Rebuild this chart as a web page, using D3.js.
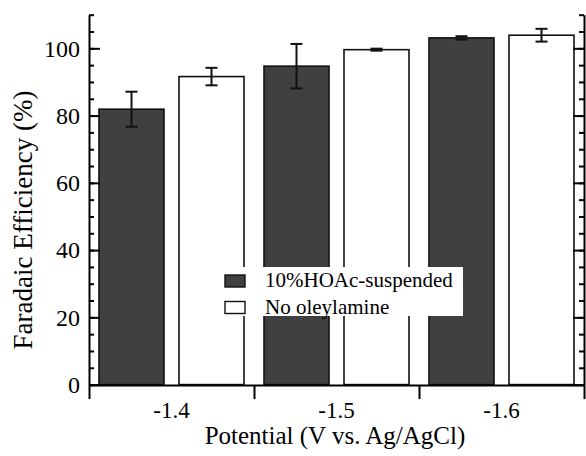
<!DOCTYPE html>
<html>
<head>
<meta charset="utf-8">
<script src="https://cdn.jsdelivr.net/npm/d3@7"></script>
<style>
  body { margin: 0; background: #fff; }
  svg { display: block; font-family: "Liberation Serif", "Times New Roman", serif; }
  .axis path, .axis line { stroke: #000; stroke-width: 2; }
  .axis text { fill: #000; }
</style>
</head>
<body>
<div id="chart"></div>
<script>
(function () {
    // Potential groups and the two sample series
    const potentials = ["-1.4", "-1.5", "-1.6"];
    const seriesNames = ["10%HOAc-suspended", "No oleylamine"];
    const hoacValues = [81.9, 94.7, 103.1];
    const hoacErrors = [5.2, 6.6, 0.5];
    const noAmineValues = [91.6, 99.6, 103.9];
    const noAmineErrors = [2.6, 0.3, 1.9];
    const majorTicks = [0, 20, 40, 60, 80, 100];
    const minorTicks = d3.range(0, 111, 5);

    const W = 586, H = 456;
    const left = 89, right = 584, top = 14.7, bottom = 384.6;
    const serif = "'Liberation Serif', 'Times New Roman', serif";

    const fills = { "10%HOAc-suspended": "#404040", "No oleylamine": "#ffffff" };

    const rows = [];
    potentials.forEach((p, i) => {
        rows.push({ pot: p, name: seriesNames[0], value: hoacValues[i], err: hoacErrors[i] });
        rows.push({ pot: p, name: seriesNames[1], value: noAmineValues[i], err: noAmineErrors[i] });
    });

    const svg = d3.select("#chart").append("svg")
        .attr("width", W)
        .attr("height", H);

    // scales
    const x0 = d3.scaleBand().domain(potentials).range([left, right]).padding(0);
    const x1 = d3.scaleBand().domain(seriesNames).range([0, x0.bandwidth()])
        .paddingInner(0.1875).paddingOuter(0.125);
    const y = d3.scaleLinear().domain([0, 110]).range([bottom, top]);
    const edges = d3.scaleLinear().domain([0, potentials.length]).range([left, right]);

    // bars
    const bars = svg.append("g");
    bars.selectAll("rect")
        .data(rows)
        .join("rect")
        .attr("x", d => x0(d.pot) + x1(d.name))
        .attr("y", d => y(d.value))
        .attr("width", x1.bandwidth())
        .attr("height", d => y(0) - y(d.value))
        .attr("fill", d => fills[d.name])
        .attr("stroke", "#111")
        .attr("stroke-width", 1.6);

    // error bars
    const errs = svg.append("g").attr("stroke", "#111").attr("stroke-width", 2);
    rows.forEach(d => {
        const cx = x0(d.pot) + x1(d.name) + x1.bandwidth() / 2;
        const hi = y(d.value + d.err), lo = y(d.value - d.err);
        errs.append("line").attr("x1", cx).attr("x2", cx).attr("y1", hi).attr("y2", lo);
        errs.append("line").attr("x1", cx - 6).attr("x2", cx + 6).attr("y1", hi).attr("y2", hi);
        errs.append("line").attr("x1", cx - 6).attr("x2", cx + 6).attr("y1", lo).attr("y2", lo);
    });

    // left axis, ticks pointing inward
    svg.append("g").attr("class", "axis")
        .attr("transform", `translate(${left},0)`)
        .call(d3.axisLeft(y).tickValues(minorTicks).tickSize(-5).tickSizeOuter(0).tickFormat(""));
    svg.append("g").attr("class", "axis")
        .attr("transform", `translate(${left},0)`)
        .call(d3.axisLeft(y).tickValues(majorTicks).tickSize(-11).tickSizeOuter(0).tickPadding(9))
        .call(g => g.select(".domain").remove())
        .call(g => g.selectAll("text")
            .style("font-family", serif)
            .style("font-size", "24px"));

    // right axis
    svg.append("g").attr("class", "axis")
        .attr("transform", `translate(${right},0)`)
        .call(d3.axisRight(y).tickValues(minorTicks).tickSize(-5).tickSizeOuter(0).tickFormat(""));
    svg.append("g").attr("class", "axis")
        .attr("transform", `translate(${right},0)`)
        .call(d3.axisRight(y).tickValues(majorTicks).tickSize(-11).tickSizeOuter(0).tickFormat(""))
        .call(g => g.select(".domain").remove());

    // bottom axis: ticks at group edges, labels at group centres
    svg.append("g").attr("class", "axis")
        .attr("transform", `translate(0,${bottom + 0.5})`)
        .call(d3.axisBottom(edges).tickValues(d3.range(potentials.length + 1)).tickSize(14).tickSizeOuter(0).tickFormat(""));
    svg.append("g").attr("class", "axis")
        .attr("transform", `translate(0,${bottom + 0.5})`)
        .call(d3.axisBottom(x0).tickSize(0).tickPadding(17))
        .call(g => g.select(".domain").remove())
        .call(g => g.selectAll("text")
            .style("font-family", serif)
            .style("font-size", "23px"));

    // axis titles
    svg.append("text")
        .attr("x", 335).attr("y", 444)
        .attr("text-anchor", "middle")
        .style("font-size", "25px")
        .attr("fill", "#000")
        .text("Potential (V vs. Ag/AgCl)");
    svg.append("text")
        .attr("transform", "translate(32,220) rotate(-90)")
        .attr("text-anchor", "middle")
        .style("font-size", "27px")
        .attr("fill", "#000")
        .text("Faradaic Efficiency (%)");

    // legend with opaque background
    const legend = svg.append("g");
    legend.append("rect")
        .attr("x", 218).attr("y", 267).attr("width", 245).attr("height", 49)
        .attr("fill", "#fff");
    seriesNames.forEach((name, i) => {
        const ly = 275 + i * 26.5;
        legend.append("rect")
            .attr("x", 225).attr("y", ly).attr("width", 20).attr("height", 12)
            .attr("fill", fills[name]).attr("stroke", "#111").attr("stroke-width", 1.4);
        legend.append("text")
            .attr("x", 265).attr("y", ly + 12)
            .style("font-size", "21px")
            .attr("fill", "#000")
            .text(name);
    });
})();
</script>
</body>
</html>
